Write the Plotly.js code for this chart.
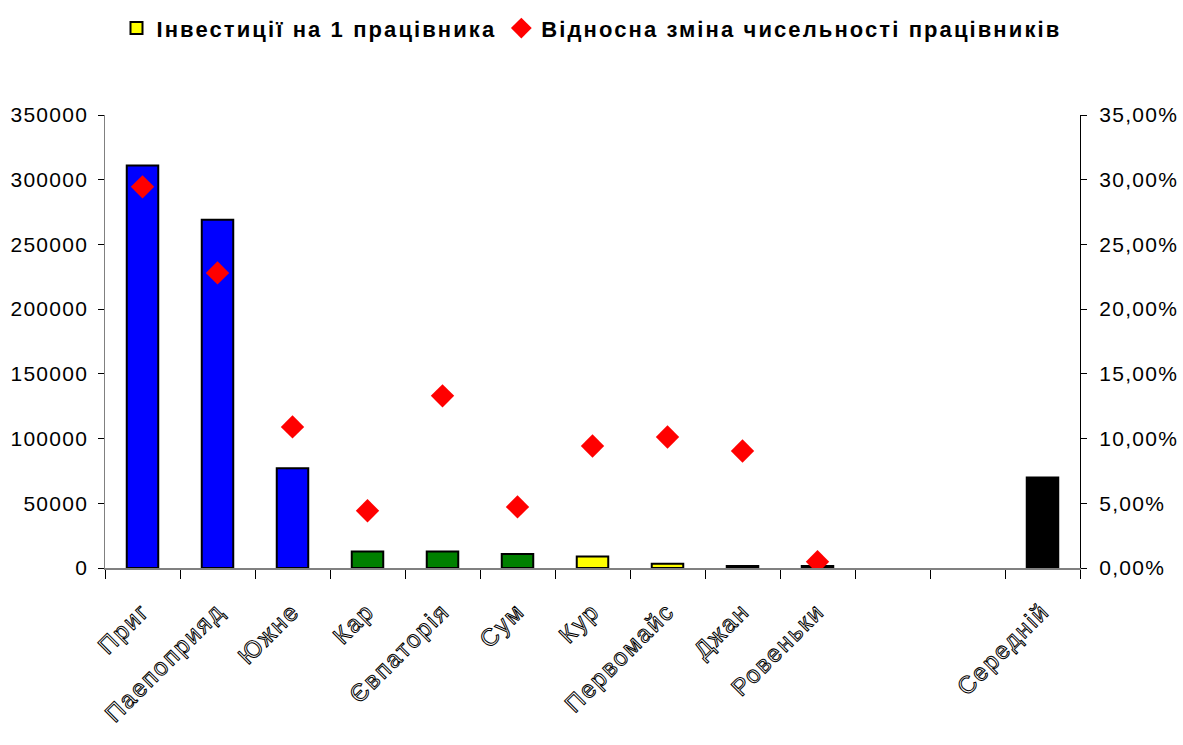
<!DOCTYPE html>
<html>
<head>
<meta charset="utf-8">
<script src="https://cdn.plot.ly/plotly-3.0.1.min.js"></script>
<style>
html,body{margin:0;padding:0;background:#fff;}
#chart{width:1183px;height:745px;}
#chart .xtick text{fill:#fff !important;stroke:#000;stroke-width:1px;letter-spacing:2px;}
#chart .ytick text,#chart .y2tick text{letter-spacing:1.3px;}
.legendtext{letter-spacing:2.1px;}
</style>
</head>
<body>
<div id="chart"></div>
<script>
const categories = ["Приг", "Паепоприяд", "Южне", "Кар", "Євпаторія", "Сум", "Кур", "Первомайс", "Джан", "Ровеньки", " ", "  ", "Середній"];
const investments = [311000, 269000, 77000, 12800, 12800, 10800, 8800, 3300, 1500, 1500, null, null, 70000];
const barColors = ["#0000FF", "#0000FF", "#0000FF", "#008000", "#008000", "#008000", "#FFFF00", "#FFFF00", "#000000", "#000000", "#000000", "#000000", "#000000"];
const relChange = [0.2945, 0.2280, 0.1090, 0.0442, 0.1330, 0.0472, 0.0943, 0.1012, 0.0904, 0.0048, null, null, null];
const seriesNames = ["Інвестиції на 1 працівника", "Відносна зміна чисельності працівників"];

const traces = [
  {
    type: "bar", x: categories, y: categories.map(() => null), name: seriesNames[0],
    marker: {color: "#FFFF00", line: {color: "#000", width: 2}},
    showlegend: true, hoverinfo: "skip"
  },
  {
    type: "bar", x: categories, y: investments, name: seriesNames[0],
    marker: {color: barColors, line: {color: "#000", width: 2}},
    width: 0.42, showlegend: false
  },
  {
    type: "scatter", mode: "markers", x: categories, y: relChange, yaxis: "y2",
    name: seriesNames[1],
    marker: {symbol: "diamond", color: "#FF0000", size: 18, line: {width: 0}}
  }
];

const layout = {
  width: 1183, height: 745,
  margin: {l: 105, r: 103, t: 115, b: 177},
  paper_bgcolor: "#fff", plot_bgcolor: "#fff",
  barmode: "overlay",
  separators: ", ",
  font: {family: "Liberation Sans, Arial, sans-serif", color: "#000"},
  showlegend: true,
  legend: {
    orientation: "h", xref: "container", yref: "container",
    x: 0.5, xanchor: "center", y: 0.962, yanchor: "middle",
    font: {size: 22, family: "Liberation Sans, Arial, sans-serif", weight: "bold", color: "#000"},
    itemwidth: 30, traceorder: "normal"
  },
  xaxis: {
    type: "category", tickson: "boundaries", ticks: "outside", ticklen: 9, tickcolor: "#000",
    showline: true, linecolor: "#808080", linewidth: 1.5, showgrid: false, zeroline: false,
    tickangle: -45, ticklabelstandoff: 18,
    tickfont: {size: 24, color: "#fff", family: "Liberation Sans, Arial, sans-serif"},
    range: [-0.5, 12.5]
  },
  yaxis: {
    range: [0, 350000], dtick: 50000, tickformat: "d",
    ticks: "outside", ticklen: 6, tickcolor: "#000", ticklabelstandoff: 5,
    showline: true, linecolor: "#808080", linewidth: 1.5, showgrid: false, zeroline: false,
    tickfont: {size: 21}
  },
  yaxis2: {
    overlaying: "y", side: "right", range: [0, 0.35], dtick: 0.05, tickformat: ".2%",
    ticks: "outside", ticklen: 6, tickcolor: "#000", ticklabelstandoff: 8,
    showline: true, linecolor: "#000", linewidth: 1, showgrid: false, zeroline: false,
    tickfont: {size: 21}
  }
};

Plotly.newPlot("chart", traces, layout, {displayModeBar: false, staticPlot: true});
</script>
</body>
</html>
